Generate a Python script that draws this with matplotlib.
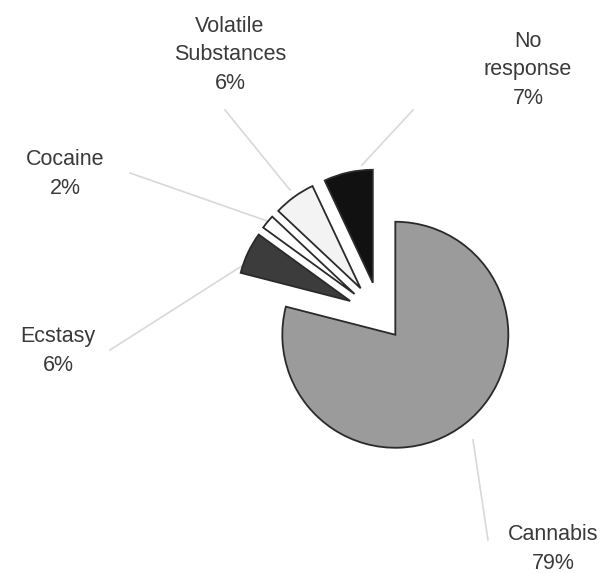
import matplotlib.pyplot as plt

# data
names = ["Cannabis", "Ecstasy", "Cocaine", "Volatile\nSubstances", "No\nresponse"]
shares = [79, 6, 2, 6, 7]
colors = ["#9b9b9b", "#3c3c3c", "#ffffff", "#f3f3f3", "#111111"]

W, H = 613, 573

fig = plt.figure(figsize=(W / 100, H / 100), dpi=100)
ax = fig.add_axes([0, 0, 1, 1])

# pie drawn in pixel space (y up); explode is in pixels here
ax.pie(shares, colors=colors, startangle=90, counterclock=False,
       center=(380, H - 315), radius=113, explode=[25, 33, 33, 33, 33],
       wedgeprops=dict(edgecolor="#2a2a2a", linewidth=1.3), frame=True)
ax.set_xlim(0, W)
ax.set_ylim(0, H)
ax.set_aspect("equal")
ax.axis("off")

# label positions (pixel coords, top-left origin) and leader lines
label_pos = [(553, 549), (58, 351), (65, 174), (230, 55), (528, 70)]
leaders = [((488, 540), (473, 440)),
           ((110, 350), (248, 262)),
           ((130, 173), (270, 222)),
           ((225, 110), (290, 190)),
           ((413, 110), (362, 165))]

for name, val, (x, y), (p0, p1) in zip(names, shares, label_pos, leaders):
    ax.text(x, H - y, f"{name}\n{val}%", ha="center", va="center",
            fontsize=15.5, family=["Liberation Sans", "DejaVu Sans"],
            color="#3a3a3a", linespacing=1.45)
    ax.plot([p0[0], p1[0]], [H - p0[1], H - p1[1]], color="#d8d8d8", lw=1.2, zorder=0)

fig.savefig("out.png", dpi=100)
